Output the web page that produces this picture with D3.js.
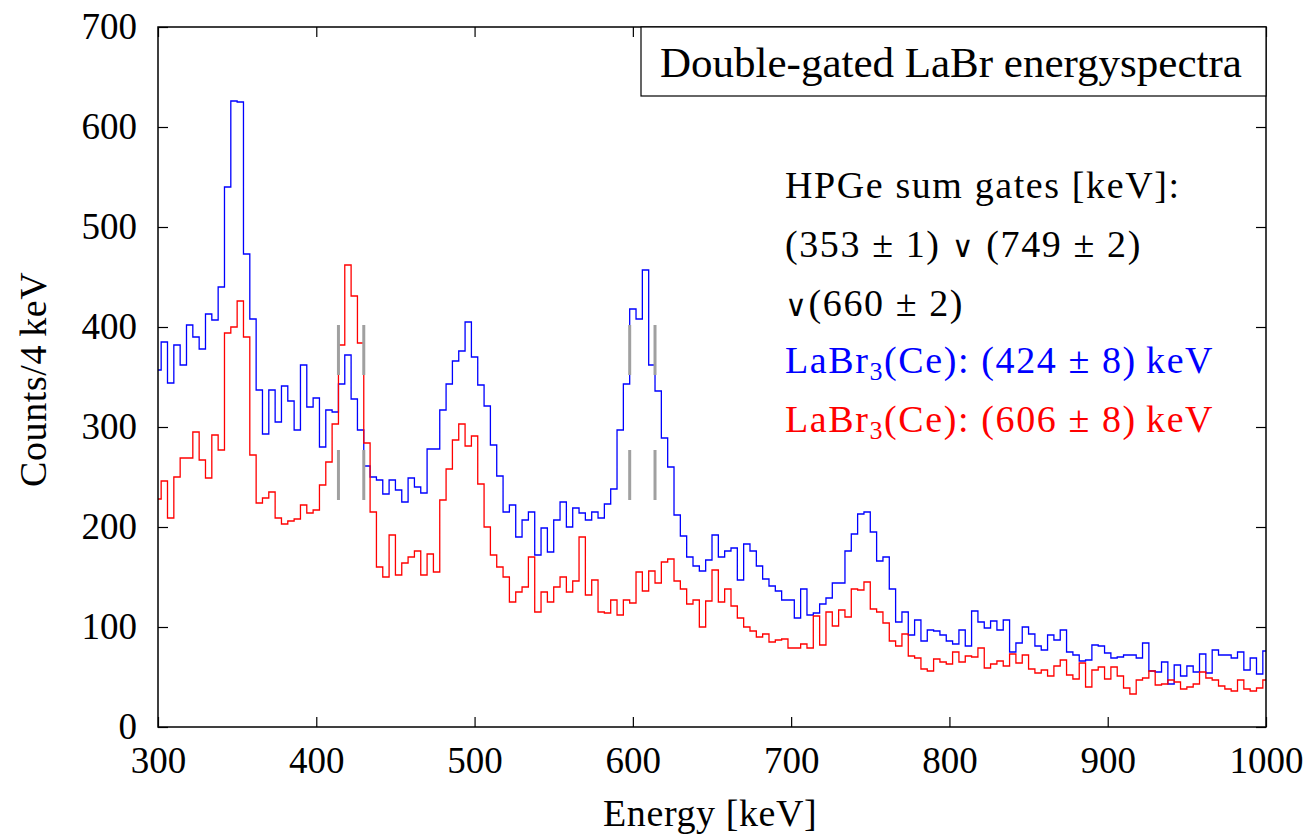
<!DOCTYPE html>
<html>
<head>
<meta charset="utf-8">
<script src="https://cdn.jsdelivr.net/npm/d3@7"></script>
<style>
  body { margin: 0; background: #fff; font-family: "Liberation Serif", serif; }
  text, tspan { font-family: "Liberation Serif", serif; }
</style>
</head>
<body>
<div id="chart"></div>
<script>
// counts per 4 keV bin, bins centred on 300, 304, ... 1000 keV
var blueCounts = [
  357,385,344,382,362,402,390,378,413,407, 440,540,626,625,473,408,337,293,337,305,
  341,326,297,362,320,329,280,317,315,343, 372,328,297,261,250,247,233,247,237,225,
  249,240,234,278,278,317,343,366,376,405, 370,342,321,282,251,215,222,190,207,215,
  172,199,175,207,225,200,219,214,207,215, 209,223,238,297,343,418,408,457,362,336,
  289,260,212,191,170,161,156,167,192,170, 176,179,147,183,176,161,148,141,136,127,
  127,109,138,112,114,123,129,144,144,176, 193,213,215,195,166,170,138,105,115,92,
  107,86,97,96,92,86,83,97,81,116,        105,99,106,97,107,75,84,100,93,81,
  77,92,87,97,75,72,66,67,82,81,          74,69,70,72,72,69,84,56,55,65,
  43,62,51,61,55,73,54,77,72,72,          69,75,57,69,53,76
];
var redCounts = [
  228,246,209,250,269,269,295,267,249,292, 277,394,400,426,390,272,224,229,235,209,
  203,206,208,222,214,217,242,265,303,382, 462,431,384,284,215,160,150,192,152,164,
  170,176,152,173,155,227,258,287,303,281, 291,243,200,172,160,150,125,135,140,170,
  115,135,125,140,150,135,146,190,132,147, 115,114,127,112,127,124,155,136,156,144,
  165,168,146,138,123,127,100,126,157,125, 138,121,109,100,96,90,93,85,87,88,
  79,79,83,79,111,82,115,101,117,110,      138,137,145,118,115,104,86,81,93,71,
  69,58,56,68,65,63,75,65,71,70,           79,59,63,66,61,73,64,72,58,54,
  57,51,61,67,52,48,64,40,57,60,           48,60,51,39,33,47,49,56,42,43,
  47,45,38,40,43,55,49,47,41,38,           36,47,38,36,39,47
];
var firstCenter = 300;
var binWidth = 4;
var xTicks = [300, 400, 500, 600, 700, 800, 900, 1000];
var yTicks = [0, 100, 200, 300, 400, 500, 600, 700];
var gateEdges = [414, 430, 598, 614];     // grey gate markers (keV)
var gateUpper = [352, 402];               // marker spans in counts
var gateLower = [227, 277];

var w = 1311, h = 838;
var plotLeft = 158, plotRight = 1266, plotTop = 27, plotBottom = 727;

var svg = d3.select("#chart").append("svg")
    .attr("width", w)
    .attr("height", h);

var xScale = d3.scaleLinear().domain([300, 1000]).range([plotLeft, plotRight]);
var yScale = d3.scaleLinear().domain([0, 700]).range([plotBottom, plotTop]);

// step outline of a histogram, clipped to the axis range
function steps(counts) {
  var pts = counts.map(function(v, i) {
    var x0 = Math.max(300, firstCenter + i * binWidth - binWidth / 2);
    return [x0, v];
  });
  pts.push([1000, counts[counts.length - 1]]);
  return pts;
}
var line = d3.line()
    .x(function(d) { return xScale(d[0]); })
    .y(function(d) { return yScale(d[1]); })
    .curve(d3.curveStepAfter);

svg.append("path").datum(steps(blueCounts))
    .attr("d", line).attr("fill", "none")
    .attr("stroke", "#0000ff").attr("stroke-width", 1.3);
svg.append("path").datum(steps(redCounts))
    .attr("d", line).attr("fill", "none")
    .attr("stroke", "#ff0000").attr("stroke-width", 1.3);

// grey gate markers
[gateUpper, gateLower].forEach(function(span) {
  svg.selectAll(null).data(gateEdges).enter().append("line")
      .attr("x1", function(d) { return xScale(d); })
      .attr("x2", function(d) { return xScale(d); })
      .attr("y1", yScale(span[0]))
      .attr("y2", yScale(span[1]))
      .attr("stroke", "#a0a0a0").attr("stroke-width", 3);
});

// axes with inward ticks
svg.append("g").attr("transform", "translate(0," + plotBottom + ")")
    .call(d3.axisBottom(xScale).tickValues(xTicks).tickFormat(d3.format("d"))
      .tickSizeInner(-10).tickSizeOuter(0).tickPadding(20))
    .attr("font-size", 37);
svg.append("g").attr("transform", "translate(" + plotLeft + ",0)")
    .call(d3.axisLeft(yScale).tickValues(yTicks).tickFormat(d3.format("d"))
      .tickSizeInner(-10).tickSizeOuter(0).tickPadding(21))
    .attr("font-size", 37);
svg.append("g").attr("transform", "translate(0," + plotTop + ")")
    .call(d3.axisTop(xScale).tickValues(xTicks).tickSizeInner(-10).tickSizeOuter(0).tickFormat(""));
svg.append("g").attr("transform", "translate(" + plotRight + ",0)")
    .call(d3.axisRight(yScale).tickValues(yTicks).tickSizeInner(-10).tickSizeOuter(0).tickFormat(""));
svg.selectAll(".domain").remove();
svg.selectAll("g").attr("font-family", null);
svg.selectAll(".tick line").attr("stroke", "#000").attr("stroke-width", 1.2);
svg.selectAll(".tick text").attr("fill", "#000");

svg.append("rect")
    .attr("x", plotLeft).attr("y", plotTop)
    .attr("width", plotRight - plotLeft).attr("height", plotBottom - plotTop)
    .attr("fill", "none").attr("stroke", "#000").attr("stroke-width", 1.5);

// axis titles
svg.append("text")
    .attr("x", 603)
    .attr("y", 826)
    .attr("font-size", 38)
    .attr("letter-spacing", 0.6)
    .attr("fill", "#000")
    .text("Energy [keV]");
svg.append("text")
    .attr("transform", "translate(46,487) rotate(-90)")
    .attr("font-size", 38)
    .attr("letter-spacing", 0.6)
    .attr("fill", "#000")
    .text("Counts/4\u2009keV");

// title box
svg.append("rect")
    .attr("x", 641).attr("y", plotTop)
    .attr("width", plotRight - 641).attr("height", 69)
    .attr("fill", "#fff").attr("stroke", "#000").attr("stroke-width", 1.2);
svg.append("text")
    .attr("x", 660).attr("y", 77)
    .attr("font-size", 43)
    .attr("fill", "#000")
    .text("Double-gated LaBr energyspectra");

// gate description
var infoX = 785;
function infoText(y, colour) {
  return svg.append("text").attr("x", infoX).attr("y", y)
      .attr("font-size", 38).attr("letter-spacing", 1.6).attr("fill", colour);
}
function orSign(t) {
  t.append("tspan").attr("class", "or").attr("font-size", 30).text("\u2228");
}
infoText(198, "#000").text("HPGe sum gates [keV]:");

var l2 = infoText(257, "#000");
l2.append("tspan").text("(353 \u00b1 1) ");
orSign(l2);
l2.append("tspan").text(" (749 \u00b1 2)");

var l3 = infoText(316, "#000");
orSign(l3);
l3.append("tspan").text("(660 \u00b1 2)");

function labrLine(y, gate, colour) {
  var t = infoText(y, colour);
  t.append("tspan").text("LaBr");
  t.append("tspan").attr("font-size", 26).attr("dy", 7).text("3");
  t.append("tspan").attr("dy", -7).text("(Ce):  (" + gate + " \u00b1 8)\u2009keV");
}
labrLine(373, 424, "#0000ff");
labrLine(432, 606, "#ff0000");

svg.selectAll("text").style("font-family", "'Liberation Serif', serif");
svg.selectAll(".or").style("font-family", "'DejaVu Sans ExtraLight', 'DejaVu Sans', sans-serif");
</script>
</body>
</html>
